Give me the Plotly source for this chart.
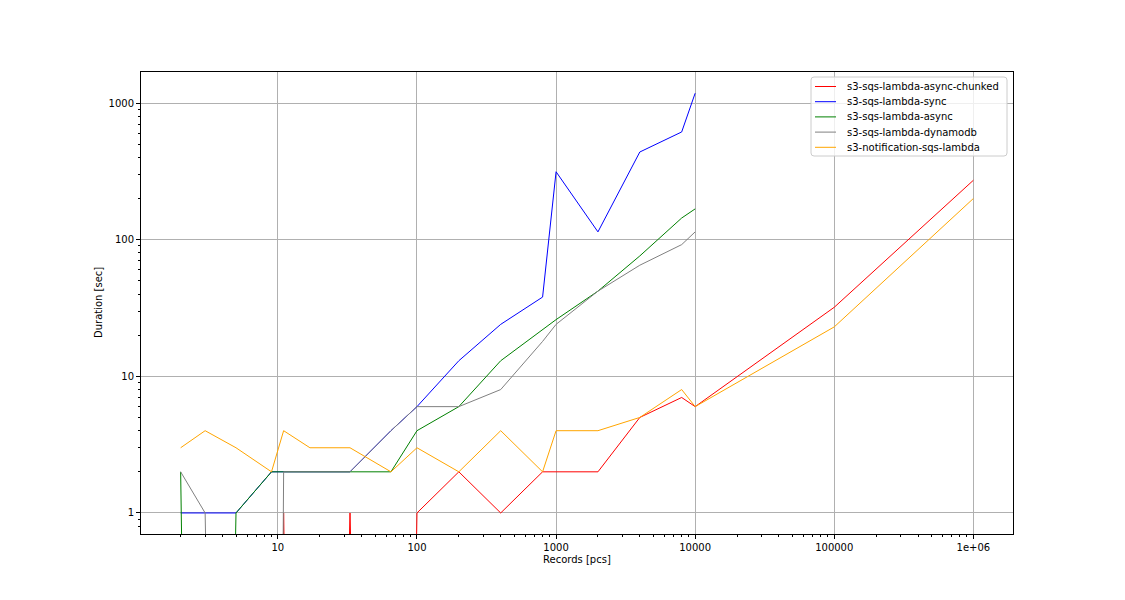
import plotly.graph_objects as go

# ---- data ----
records_long = [2, 3, 5, 9, 11, 17, 33, 65, 100, 200, 400, 800, 1000, 2000, 4000, 8000, 10000, 100000, 1000000]
records_short = [2, 3, 5, 9, 11, 17, 33, 65, 100, 200, 400, 800, 1000, 2000, 4000, 8000, 10000]

async_chunked = [0, 0, 0, 0, 1, 0, 1, 0, 1, 2, 1, 2, 2, 2, 5, 7, 6, 32, 272]
sync = [1, 1, 1, 2, 2, 2, 2, 4, 6, 13, 24, 38, 314, 114, 438, 614, 1180]
async_ = [2, 0, 1, 2, 2, 2, 2, 2, 4, 6, 13, 22, 26, 42, 76, 144, 168]
dynamodb = [2, 1, 0, 0, 2, 2, 2, 4, 6, 6, 8, 18, 24, 42, 65, 92, 114]
notification = [3, 4, 3, 2, 4, 3, 3, 2, 3, 2, 4, 2, 4, 4, 5, 8, 6, 23, 200]

series_names = ["s3-sqs-lambda-async-chunked", "s3-sqs-lambda-sync", "s3-sqs-lambda-async",
                "s3-sqs-lambda-dynamodb", "s3-notification-sqs-lambda"]
series_colors = ["red", "blue", "green", "gray", "orange"]
series_x = [records_long, records_short, records_short, records_short, records_long]
series_y = [async_chunked, sync, async_, dynamodb, notification]

x_tickvals = [10, 100, 1000, 10000, 100000, 1000000]
x_ticktext = ["10", "100", "1000", "10000", "100000", "1e+06"]
y_tickvals = [1, 10, 100, 1000]
y_ticktext = ["1", "10", "100", "1000"]

# non-positive values are clipped far below the axis on a log scale (like matplotlib)
CLIP = 1e-12

# ---- geometry (page pixels; the page body adds an 8px offset) ----
OFF = 8
W, H = 1125 - OFF, 600 - OFF
L, R, T, B = 141, 1013, 72, 534
PW, PH = R - L, B - T


def px(xp):
    return (xp - L) / PW


def py(yp):
    return (B - yp) / PH


FONT = dict(family="DejaVu Sans", size=10, color="black")

fig = go.Figure()
for name, color, xs, ys in zip(series_names, series_colors, series_x, series_y):
    fig.add_trace(go.Scatter(
        x=xs, y=[v if v > 0 else CLIP for v in ys], mode="lines", name=name,
        line=dict(color=color, width=1), showlegend=False,
    ))

minor_x = [k * 10 ** d for d in range(0, 7) for k in range(2, 10)]
minor_y = [k * 10.0 ** d for d in range(-1, 4) for k in range(2, 10)]

axis_common = dict(
    type="log", showline=True, linecolor="black", linewidth=1, mirror=True,
    ticks="outside", ticklen=4, tickwidth=1, tickcolor="black",
    showgrid=True, gridcolor="#b0b0b0", gridwidth=1, zeroline=False,
    tickfont=FONT, tickmode="array",
)

fig.update_xaxes(
    **axis_common, range=[0.016, 6.285], tickvals=x_tickvals, ticktext=x_ticktext,
    minor=dict(tickmode="array", tickvals=minor_x, ticks="outside", ticklen=2,
               tickwidth=1, tickcolor="black", showgrid=False),
)
fig.update_yaxes(
    **axis_common, range=[-0.154, 3.227], tickvals=y_tickvals, ticktext=y_ticktext,
    minor=dict(tickmode="array", tickvals=minor_y, ticks="outside", ticklen=2,
               tickwidth=1, tickcolor="black", showgrid=False),
)

annotations = [
    dict(text="Records [pcs]", x=0.5, y=py(559), xref="paper", yref="paper",
         xanchor="center", yanchor="middle", showarrow=False, font=FONT),
    dict(text="Duration [sec]", x=px(98), y=0.5, xref="paper", yref="paper",
         xanchor="center", yanchor="middle", showarrow=False, font=FONT, textangle=-90),
]

# ---- legend (matplotlib style) ----
bx0, bx1, by0, by1 = 811, 1007, 77, 156
r = 3
rx, ry = r / PW, r / PH
x0, x1, y0, y1 = px(bx0), px(bx1), py(by1), py(by0)
path = (f"M {x0+rx},{y0} L {x1-rx},{y0} Q {x1},{y0} {x1},{y0+ry} "
        f"L {x1},{y1-ry} Q {x1},{y1} {x1-rx},{y1} L {x0+rx},{y1} "
        f"Q {x0},{y1} {x0},{y1-ry} L {x0},{y0+ry} Q {x0},{y0} {x0+rx},{y0} Z")
shapes = [dict(type="path", path=path, xref="paper", yref="paper",
               fillcolor="rgba(255,255,255,0.8)", line=dict(color="#cccccc", width=1))]

entry_y = [86.5, 101.7, 116.9, 132.1, 147.3]
for name, color, ey in zip(series_names, series_colors, entry_y):
    shapes.append(dict(type="line", xref="paper", yref="paper",
                       x0=px(815), x1=px(836), y0=py(ey), y1=py(ey),
                       line=dict(color=color, width=1)))
    annotations.append(dict(text=name, x=px(845), y=py(ey), xref="paper", yref="paper",
                            xanchor="left", yanchor="middle", showarrow=False, font=FONT))

fig.update_layout(
    width=W, height=H,
    margin=dict(l=L - OFF, r=W - (R - OFF), t=T - OFF, b=H - (B - OFF), pad=0),
    paper_bgcolor="white", plot_bgcolor="white",
    font=FONT, showlegend=False,
    annotations=annotations, shapes=shapes,
)

fig.write_html("out.html")
